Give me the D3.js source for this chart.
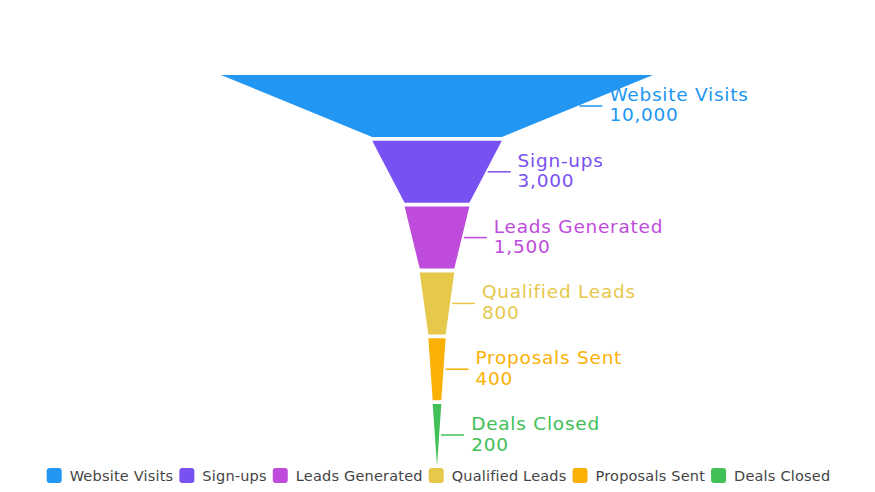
<!DOCTYPE html>
<html>
<head>
<meta charset="utf-8">
<script src="https://cdn.jsdelivr.net/npm/d3@7/dist/d3.min.js"></script>
<style>
  html, body { margin: 0; padding: 0; background: #fff; }
  svg { display: block; font-family: "DejaVu Sans", sans-serif; }
</style>
</head>
<body>
<svg id="chart" width="875" height="492"></svg>
<script>
const stages = ["Website Visits", "Sign-ups", "Leads Generated", "Qualified Leads", "Proposals Sent", "Deals Closed"];
const values = [10000, 3000, 1500, 800, 400, 200];
const colors = ["#2196F3", "#7950F2", "#BE4BDB", "#E6C84B", "#FAB005", "#40C057"];

const W = 875, H = 492;
const cx = 437;
const svg = d3.select("#chart");

const wScale = d3.scaleLinear().domain([0, d3.max(values)]).range([0, 432]);
const yScale = d3.scaleBand().domain(stages).range([75, 466]).paddingInner(0.0578).paddingOuter(0);
const fmt = d3.format(",");

const data = stages.map((s, i) => ({
  name: s, value: values[i], color: colors[i],
  top: wScale(values[i]),
  bottom: i < values.length - 1 ? wScale(values[i + 1]) : 0
}));

const g = svg.append("g");
data.forEach(d => {
  const y0 = yScale(d.name), y1 = y0 + yScale.bandwidth();
  const ym = (y0 + y1) / 2;
  g.append("path")
    .attr("d", `M${cx - d.top / 2},${y0}L${cx + d.top / 2},${y0}L${cx + d.bottom / 2},${y1}L${cx - d.bottom / 2},${y1}Z`)
    .attr("fill", d.color);
  const edge = cx + (d.top + d.bottom) / 4;
  g.append("line")
    .attr("x1", edge + 2).attr("x2", edge + 25)
    .attr("y1", ym).attr("y2", ym)
    .attr("stroke", d.color).attr("stroke-width", 1.5);
  g.append("text")
    .attr("x", edge + 32).attr("y", ym - 5).attr("fill", d.color)
    .style("font-size", "18.5px").style("letter-spacing", "0.75px").text(d.name);
  g.append("text")
    .attr("x", edge + 32).attr("y", ym + 15.5).attr("fill", d.color)
    .style("font-size", "18.5px").style("letter-spacing", "0.75px").text(fmt(d.value));
});

// legend
const lg = svg.append("g");
let x = 0;
data.forEach(d => {
  const it = lg.append("g").attr("transform", `translate(${x},0)`);
  it.append("rect").attr("x", 0).attr("y", -7.5).attr("width", 15).attr("height", 15)
    .attr("rx", 3).attr("fill", d.color);
  const tx = it.append("text").attr("x", 23).attr("y", 5)
    .attr("fill", "#444").style("font-size", "14.5px").style("letter-spacing", "0.2px").text(d.name);
  const tw = tx.node().getComputedTextLength();
  x += 23 + tw + 6;
});
const total = x - 6;
lg.attr("transform", `translate(${(W - total) / 2 + 1},475.5)`);
</script>
</body>
</html>
